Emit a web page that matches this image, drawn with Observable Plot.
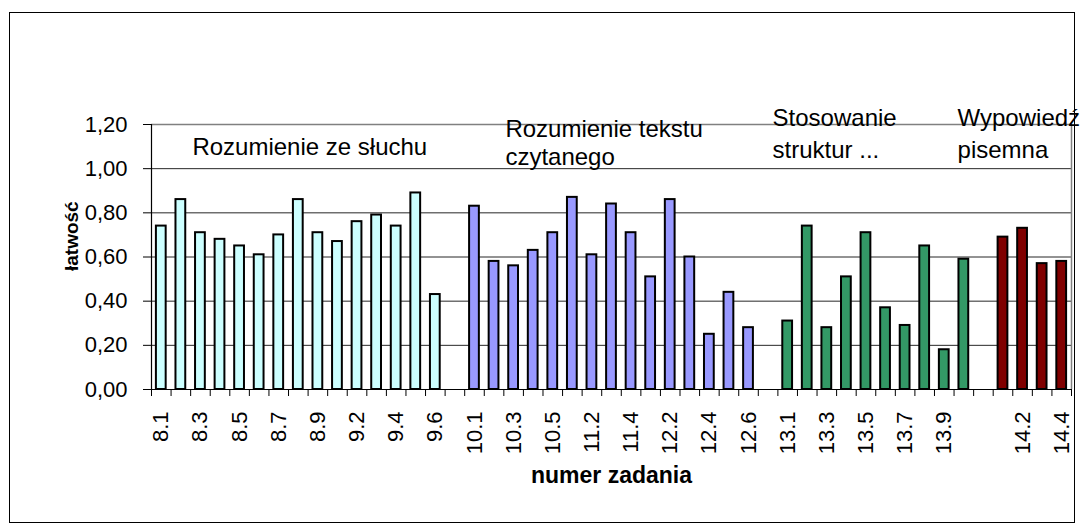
<!DOCTYPE html>
<html><head><meta charset="utf-8">
<script src="https://cdn.jsdelivr.net/npm/d3@7"></script>
<script src="https://cdn.jsdelivr.net/npm/@observablehq/plot@0.6"></script>
<style>
body{margin:0;background:#fff;}
#wrap{position:relative;width:1084px;height:532px;overflow:hidden;}
#border{position:absolute;left:9px;top:12px;width:1064px;height:509px;border:1px solid #000;pointer-events:none;}
#chart{position:absolute;left:0;top:0;}
</style></head><body><div id="wrap"><div id="chart"></div><div id="border"></div></div>
<script>
const categories = ["8.1","8.2","8.3","8.4","8.5","8.6","8.7","8.8","8.9","9.1","9.2","9.3","9.4","9.5","9.6","",
  "10.1","10.2","10.3","10.4","10.5","11.1","11.2","11.3","11.4","12.1","12.2","12.3","12.4","12.5","12.6","",
  "13.1","13.2","13.3","13.4","13.5","13.6","13.7","13.8","13.9","13.10","",
  "14.1","14.2","14.3","14.4"];
const values = [0.74,0.86,0.71,0.68,0.65,0.61,0.70,0.86,0.71,0.67,0.76,0.79,0.74,0.89,0.43,null,
  0.83,0.58,0.56,0.63,0.71,0.87,0.61,0.84,0.71,0.51,0.86,0.60,0.25,0.44,0.28,null,
  0.31,0.74,0.28,0.51,0.71,0.37,0.29,0.65,0.18,0.59,null,
  0.69,0.73,0.57,0.58];
const groupNames = ["Rozumienie ze słuchu","Rozumienie tekstu czytanego","Stosowanie struktur","Wypowiedź pisemna"];
const groupColors = ["#ccffff","#9999ff","#339966","#800000"];
const groups = [0,0,0,0,0,0,0,0,0,0,0,0,0,0,0,null,
  1,1,1,1,1,1,1,1,1,1,1,1,1,1,1,null,
  2,2,2,2,2,2,2,2,2,2,null,
  3,3,3,3];
const yTicks = [0,0.2,0.4,0.6,0.8,1.0,1.2];
const annoLabels = ["Rozumienie ze słuchu","Rozumienie tekstu","czytanego","Stosowanie","struktur ...","Wypowiedź","pisemna"];
const annoX = [2.09,18.08,18.08,31.73,31.73,41.18,41.18];
const annoY = [1.096,1.177,1.051,1.227,1.082,1.227,1.082];
const yTitle = "łatwość";
const xTitle = "numer zadania";

const data = categories.map((c,i)=>({i, c, v: values[i], g: groups[i] == null ? null : groupNames[groups[i]]})).filter(d=>d.v!=null);
const n = categories.length;
const labelTicks = d3.range(0, n, 2).filter(k => categories[k] !== "").map(k => k + 0.5);

const chart = Plot.plot({
  width:1084, height:532, marginLeft:151, marginRight:13, marginTop:124, marginBottom:143,
  style:{fontFamily:"'Liberation Sans', Arial, sans-serif", fontSize:"22px", color:"#000", background:"transparent"},
  x:{domain:[0, n], axis:null},
  y:{domain:[0,1.2], axis:null},
  color:{domain:groupNames, range:groupColors},
  marks:[
    Plot.ruleY(yTicks.filter(t=>t>0 && t<1.2), {stroke:"#000", strokeWidth:1, strokeOpacity:0.85}),
    Plot.ruleY([1.2], {stroke:"#808080", strokeWidth:1.5}),
    Plot.ruleX([n], {stroke:"#808080", strokeWidth:1.5}),
    Plot.rectY(data, {x:"i", interval:1, y:"v", fill:"g", stroke:"#000", strokeWidth:2, insetLeft:4.9, insetRight:4.9}),
    Plot.ruleY([0], {stroke:"#000", strokeWidth:1.2}),
    Plot.ruleX([0], {stroke:"#000", strokeWidth:1.2}),
    Plot.axisY({ticks:yTicks, tickSize:8, tickPadding:16, tickFormat: d=>d.toFixed(2).replace(".",","), label:null}),
    Plot.axisX({ticks: d3.range(0, n+1), tickSize:7, tickFormat: ()=>"", label:null}),
    Plot.axisX({ticks: labelTicks, tickSize:0, tickPadding:22, tickRotate:-90, tickFormat: v=>categories[Math.floor(v)], label:null}),
    Plot.text(annoLabels, {x:(d,i)=>annoX[i], y:(d,i)=>annoY[i], textAnchor:"start", fontSize:24}),
    Plot.text([yTitle], {frameAnchor:"left", dx:-80, dy:14, rotate:-90, fontWeight:"bold", fontSize:19}),
    Plot.text([xTitle], {frameAnchor:"bottom", dy:93, fontWeight:"bold", fontSize:23})
  ]
});
document.getElementById("chart").appendChild(chart);
</script></body></html>
